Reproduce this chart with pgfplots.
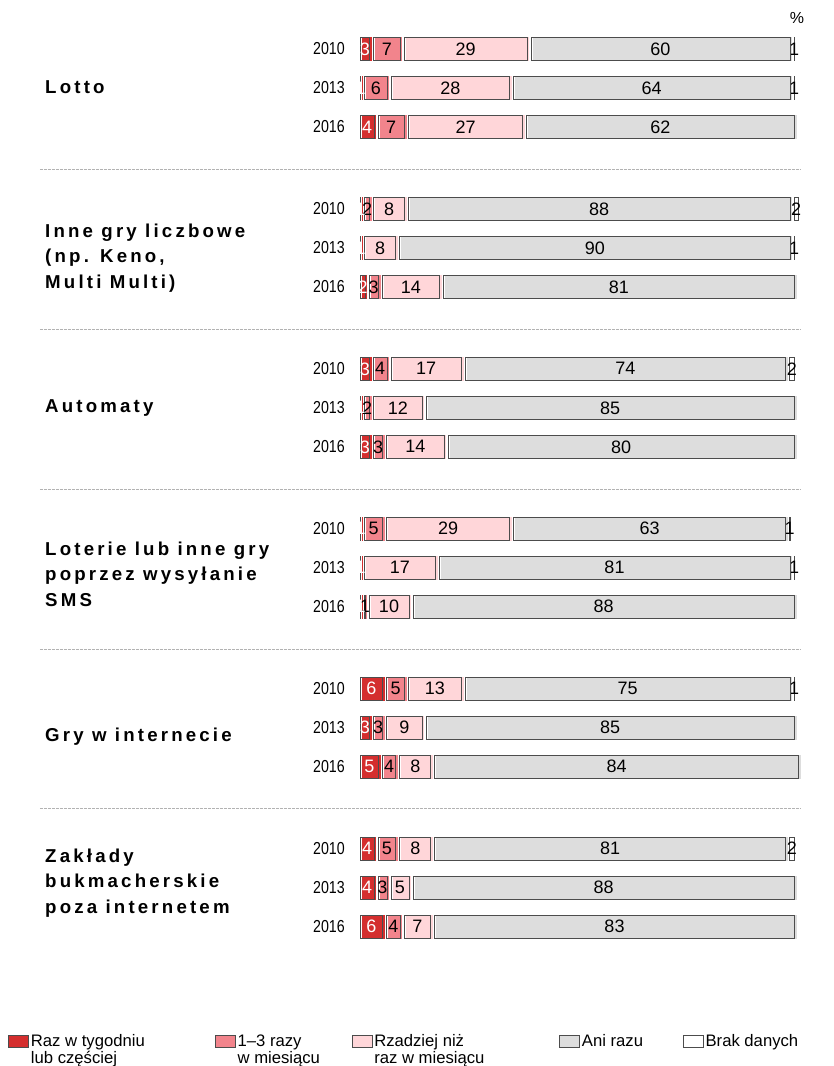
\documentclass[border=0pt]{standalone}
\usepackage{fontspec}
\setmainfont{Liberation Sans}
\newfontfamily\yearfont{Liberation Sans}[FakeStretch=0.82]
\newfontfamily\grpfont{Liberation Sans}[LetterSpace=17]
\usepackage{pgfplots}
\usepackage{pgfplotstable}
\pgfplotsset{compat=1.18}

\definecolor{weekly}{RGB}{212,46,46}
\definecolor{monthly}{RGB}{242,132,140}
\definecolor{rarely}{RGB}{255,214,217}
\definecolor{never}{RGB}{221,221,221}
\definecolor{nodata}{RGB}{255,255,255}

% y = row position (2010/2013/2016 in six groups), a..e = answer shares in %
\pgfplotstableread{
y     a  b  c   d   e
0     3  7  29  60  1
1     1  6  28  64  1
2     4  7  27  62  0
4.1   1  2  8   88  2
5.1   1  0  8   90  1
6.1   2  3  14  81  0
8.2   3  4  17  74  2
9.2   1  2  12  85  0
10.2  3  3  14  80  0
12.3  1  5  29  63  1
13.3  1  0  17  81  1
14.3  1  1  10  88  0
16.4  6  5  13  75  1
17.4  3  3  9   85  0
18.4  5  4  8   84  0
20.5  4  5  8   81  2
21.5  4  3  5   88  0
22.5  6  4  7   83  0
}\gambling

% two-line legend text, first line on the baseline
\newcommand{\legtext}[3]{\hbox to #1{\vtop{\hbox{#2}\hbox{#3}}\hss}}

\pgfplotsset{
  % width of the current segment in pt (x unit is 3.284pt)
  seg box/.code={%
    \pgfkeys{/pgf/fpu=true,/pgf/fpu/output format=fixed}%
    \pgfmathsetmacro\segwd{\pgfplotspointmeta*3.284}%
    \pgfkeys{/pgf/fpu=false}%
    \ifdim\segwd pt<1pt \def\segline{none}\else\def\segline{black!70}\fi
  },
  seg/.style={
    draw=white, line width=2.5pt,
    legend image code/.code={\draw[draw=black!70, line width=0.5pt] (0pt,-0.5pt) rectangle (15pt,8.5pt);},
  },
}
\tikzset{
  grp/.style={anchor=west, align=left, inner sep=0pt,
    font=\grpfont\bfseries\fontsize{14}{19.1}\selectfont},
}

\begin{document}
\begin{tikzpicture}
\begin{axis}[
  xbar stacked,
  x=3.284pt, y=29.25pt,
  xmin=0, xmax=100,
  ymin=-1.2564, ymax=26.077,
  y dir=reverse,
  enlargelimits=false,
  bar width=20.5pt,
  clip=false,
  axis line style={draw=none},
  tick style={draw=none},
  major tick length=0pt,
  xtick=\empty,
  ytick={0,1,2,4.1,5.1,6.1,8.2,9.2,10.2,12.3,13.3,14.3,16.4,17.4,18.4,20.5,21.5,22.5},
  yticklabels={2010,2013,2016,2010,2013,2016,2010,2013,2016,2010,2013,2016,2010,2013,2016,2010,2013,2016},
  yticklabel style={font=\yearfont\fontsize{13}{13}\selectfont, inner sep=0pt, xshift=-11.5pt},
  point meta=rawx,
  /pgf/number format/assume math mode=true,
  nodes near coords={\makebox[0pt]{\pgfmathfloatifflags{\pgfplotspointmeta}{0}{}{\pgfmathprintnumber{\pgfplotspointmeta}}}},
  % the label node sits east-anchored at the segment end and spans the segment
  every node near coord/.append style={/pgfplots/seg box,
    xshift=-1.5pt, minimum width={\segwd pt-3pt}, minimum height=17.5pt,
    draw=\segline, line width=0.5pt, inner sep=0pt, outer sep=0pt,
    font=\fontsize{13.5}{14}\selectfont},
  legend columns=5,
  legend style={
    at={(-0.8047,0.030)}, anchor=north west,
    draw=none, fill=none, inner sep=0pt,
    font=\fontsize{12.5}{12.75}\selectfont,
    cells={anchor=base west},
    nodes={inner sep=0pt},
    /tikz/every odd column/.append style={column sep=1.5pt},
    /tikz/every even column/.append style={column sep=0pt},
  },
]
\addplot[seg, fill=weekly, every node near coord/.append style={text=white}] table[x=a,y=y]{\gambling};
\addlegendentry{\legtext{138pt}{Raz w tygodniu}{lub częściej}}
\addplot[seg, fill=monthly] table[x=b,y=y]{\gambling};
\addlegendentry{\legtext{85.5pt}{1–3 razy}{w miesiącu}}
\addplot[seg, fill=rarely] table[x=c,y=y]{\gambling};
\addlegendentry{\legtext{138.75pt}{Rzadziej niż}{raz w miesiącu}}
\addplot[seg, fill=never] table[x=d,y=y]{\gambling};
\addlegendentry{\legtext{75.75pt}{Ani razu}{}}
\addplot[seg, fill=nodata] table[x=e,y=y]{\gambling};
\addlegendentry{Brak danych}

\pgfplotsinvokeforeach{3.08,7.18,11.28,15.38,19.48}{
  \draw[black!30, line width=0.45pt, dash pattern=on 2pt off 1pt] (axis cs:-73.2,#1) -- (axis cs:100.4,#1);
}

\node[grp] at (axis cs:-72.03,0.974) {Lotto};
\node[grp] at (axis cs:-72.03,5.36) {Inne gry liczbowe\\(np. Keno,\\Multi Multi)};
\node[grp] at (axis cs:-72.03,9.2) {Automaty};
\node[grp] at (axis cs:-72.03,13.46) {Loterie lub inne gry\\poprzez wysyłanie\\SMS};
\node[grp] at (axis cs:-72.03,17.64) {Gry w internecie};
\node[grp] at (axis cs:-72.03,21.38) {Zakłady\\bukmacherskie\\poza internetem};

\node[font=\fontsize{12}{12}\selectfont] at (axis cs:99.7,-0.795) {\%};

\coordinate (bbSW) at (axis cs:-82.30,26.077);
\coordinate (bbNE) at (axis cs:108.15,-1.2564);
\end{axis}
\pgfresetboundingbox
\useasboundingbox (bbSW) rectangle (bbNE);
\end{tikzpicture}
\end{document}
